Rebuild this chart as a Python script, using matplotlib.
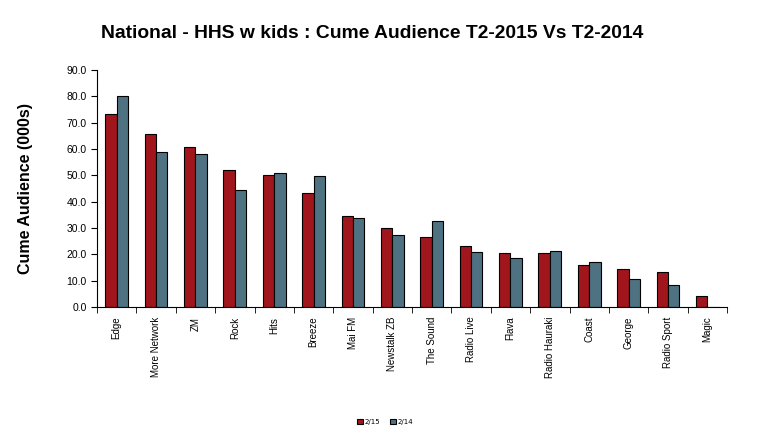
import numpy as np
import matplotlib.pyplot as plt
from matplotlib.ticker import FixedLocator, NullFormatter

stations = ['Edge', 'More Network', 'ZM', 'Rock', 'Hits', 'Breeze', 'Mai FM',
            'Newstalk ZB', 'The Sound', 'Radio Live', 'Flava', 'Radio Hauraki',
            'Coast', 'George', 'Radio Sport', 'Magic']
t2_2015 = [73.3, 65.8, 60.7, 51.9, 50.3, 43.3, 34.7, 30.0, 26.5, 23.3, 20.6,
           20.5, 15.9, 14.4, 13.2, 4.3]
t2_2014 = [80.0, 58.9, 58.1, 44.4, 51.0, 49.6, 33.9, 27.3, 32.8, 21.0, 18.6,
           21.4, 17.1, 10.5, 8.5, 0.0]
series_labels = ['2/15', '2/14']

fig = plt.figure(figsize=(7.63, 4.34), dpi=100)
ax = fig.add_axes([97/763, 1 - 307/434, 630/763, 237/434])

x = np.arange(len(stations))
w = 0.29
ax.bar(x - w/2, t2_2015, w, color='#A0161C', edgecolor='black', linewidth=0.8,
       label=series_labels[0])
ax.bar(x + w/2, t2_2014, w, color='#4F7283', edgecolor='black', linewidth=0.8,
       label=series_labels[1])

ax.set_xlim(-0.5, len(stations) - 0.5)
ax.set_ylim(0, 90)
ax.set_yticks(np.arange(0, 91, 10))
ax.set_yticklabels(['%.1f' % v for v in np.arange(0, 91, 10)], fontsize=7.5,
                   family='Liberation Sans')
ax.set_xticks(x)
ax.set_xticklabels(stations, rotation=90, fontsize=7, family='Liberation Sans')
ax.tick_params(axis='x', which='major', length=0, pad=7)
ax.xaxis.set_minor_locator(FixedLocator(np.arange(-0.5, len(stations), 1)))
ax.xaxis.set_minor_formatter(NullFormatter())
ax.tick_params(axis='x', which='minor', length=4, direction='out')
ax.tick_params(axis='y', length=4, direction='out')

for s in ['top', 'right']:
    ax.spines[s].set_visible(False)

ax.set_ylabel('Cume Audience (000s)', fontsize=11.5, fontweight='bold',
              family='Liberation Sans', labelpad=24)

fig.text(372/763, 1 - 33/434, 'National - HHS w kids : Cume Audience T2-2015 Vs T2-2014',
         ha='center', va='center', fontsize=13.9, fontweight='bold',
         family='Liberation Sans')

fig.legend(loc='center', bbox_to_anchor=(385/763, 1 - 422/434), ncol=2,
           frameon=False, fontsize=5, handlelength=0.8, handleheight=0.8,
           handletextpad=0.2, columnspacing=1.5)

fig.savefig('out.png', dpi=100)
